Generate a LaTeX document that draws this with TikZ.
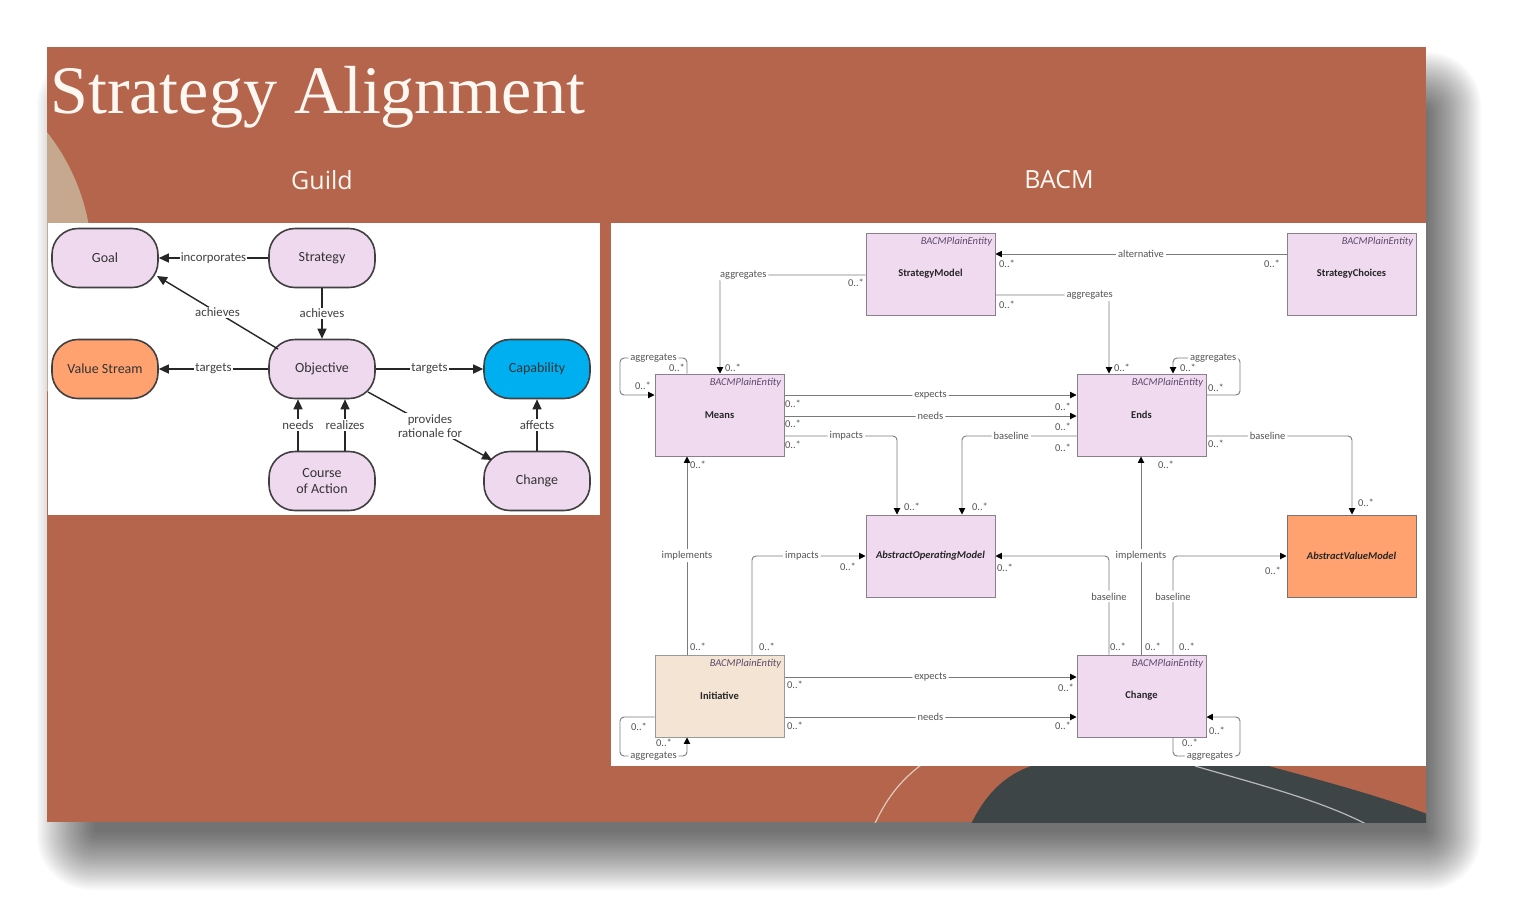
\documentclass[tikz,border=0pt]{standalone}
\usepackage{fontspec}
\setmainfont{Carlito}
\newfontfamily\titlefont{Liberation Serif}
\newfontfamily\headfont{Open Sans}
\usetikzlibrary{arrows.meta,calc}
\definecolor{slide}{HTML}{B5654C}
\definecolor{beigec}{HTML}{C6A88E}
\definecolor{darkblob}{HTML}{3D4547}
\definecolor{pinkfill}{HTML}{F0DAF0}
\definecolor{lavfill}{HTML}{EFD9EF}
\definecolor{orangefill}{HTML}{FFA26F}
\definecolor{bluefill}{HTML}{00AFEF}
\definecolor{initfill}{HTML}{F3E4D3}
\definecolor{boxline}{HTML}{8C7F8C}
\definecolor{connline}{HTML}{7A7A7A}
\definecolor{labeltext}{HTML}{555555}
\definecolor{stereotext}{HTML}{5A4A6A}
\definecolor{titlecol}{HTML}{FFF8F2}
\tikzset{
  pill/.style={draw=black!75, line width=0.8pt, rounded corners=13pt, fill=lavfill,
    minimum width=53pt, minimum height=29.5pt, inner sep=0pt, align=center,
    font=\fontsize{7}{8.2}\selectfont, text=black!80},
  gedge/.style={draw=black!85, line width=0.7pt, -{Triangle[length=5pt,width=4.5pt]}},
  glbl/.style={fill=white, font=\fontsize{6.4}{7.4}\selectfont, text=black!75, inner sep=0.6pt, align=center},
  umlbox/.style={draw=boxline, fill=pinkfill, line width=0.5pt, minimum width=64.5pt,
    minimum height=41pt, inner sep=0pt, font=\fontsize{5.25}{6}\selectfont\bfseries, text=black!85},
  stereolbl/.style={anchor=north east, inner xsep=1.5pt, inner ysep=2.2pt,
    font=\fontsize{5.25}{6}\selectfont\itshape, text=stereotext},
  stereo/.style={label={[stereolbl]north east:BACMPlainEntity}},
  conn/.style={draw=connline, line width=0.45pt, rounded corners=2pt},
  arr/.style={-{Triangle[length=3.2pt,width=3.2pt,color=black]}},
  clbl/.style={fill=white, font=\fontsize{5.25}{6}\selectfont, text=labeltext, inner sep=1pt},
  mult/.style={font=\fontsize{5.25}{6}\selectfont, text=labeltext, inner sep=0pt}
}
\begin{document}
\begin{tikzpicture}[x=0.5pt,y=-0.5pt]
\useasboundingbox (0,0) rectangle (1521,917);
\fill[white] (0,0) rectangle (1521,917);
% soft shadow (stacked translucent layers)
\foreach \i [evaluate=\i as \r using 1+0.9*\i] in {0,...,29} {
  \fill[black,opacity=0.022,rounded corners=\r pt] (95-2*\i,110-2*\i) rectangle (1426+1.9*\i,832+2*\i);
}
% slide
\fill[slide] (47,47) rectangle (1426,822);
\begin{scope}
  \clip (47,47) rectangle (1426,822);
  \fill[beigec] (-118,262) circle[radius=105pt];
  \fill[darkblob] (966,835) .. controls (985,790) and (1010,770) .. (1045,762) -- (1240,758)
     .. controls (1300,775) and (1380,795) .. (1432,816) -- (1432,835) -- cycle;
  \draw[beigec!60!white, line width=0.6pt] (872,830) .. controls (885,800) and (900,780) .. (925,762);
  \draw[gray!55, line width=0.6pt] (1195,766) .. controls (1260,785) and (1320,800) .. (1368,825);
\end{scope}
% panels
\fill[white] (48,223) rectangle (600,515);
\fill[white] (611,223) rectangle (1426,766);
% titles
\node[anchor=base west, inner sep=0pt, text=titlecol, font=\titlefont\fontsize{34}{40}\selectfont] (title) at (50,113) {Strategy Alignment};
\node[inner sep=0pt, text=titlecol, font=\headfont\fontsize{12.5}{15}\selectfont] (guild) at (322,180) {Guild};
\node[inner sep=0pt, text=titlecol, font=\headfont\fontsize{12.5}{15}\selectfont] (bacm) at (1059,180) {BACM};

% ---------- Guild diagram ----------
\node[pill] (Goal) at (105,258) {Goal};
\node[pill] (Strategy) at (322,258) {Strategy};
\node[pill, fill=orangefill] (VS) at (105,369) {Value Stream};
\node[pill] (Obj) at (322,369) {Objective};
\node[pill, fill=bluefill] (Cap) at (537,369) {Capability};
\node[pill] (CoA) at (322,481) {Course\\of Action};
\node[pill] (GChg) at (537,481) {Change};

\draw[gedge] (Strategy) -- node[glbl]{incorporates} (Goal);
\draw[gedge] ($(Obj)+(-44,-20)$) -- node[glbl]{achieves} ($(Goal)+(52,18)$);
\draw[gedge] (Strategy) -- node[glbl]{achieves} (Obj);
\draw[gedge] (Obj) -- node[glbl]{targets} (VS);
\draw[gedge] (Obj) -- node[glbl]{targets} (Cap);
\draw[gedge] ($(Obj)+(46,23)$) -- node[glbl]{provides\\rationale for} ($(GChg)+(-45,-21)$);
\draw[gedge] (CoA.north -| 298,0) -- node[glbl]{needs} (Obj.south -| 298,0);
\draw[gedge] (CoA.north -| 345,0) -- node[glbl]{realizes} (Obj.south -| 345,0);
\draw[gedge] (GChg) -- node[glbl]{affects} (Cap);

% ---------- BACM diagram ----------
\node[umlbox, stereo] (SM) at (930.5,274) {StrategyModel};
\node[umlbox, stereo] (SC) at (1351.5,274) {StrategyChoices};
\node[umlbox, stereo] (Means) at (719.5,415) {Means};
\node[umlbox, stereo] (Ends) at (1141.5,415) {Ends};
\node[umlbox, font=\fontsize{5.25}{6}\selectfont\bfseries\itshape] (AOM) at (930.5,556) {AbstractOperatingModel};
\node[umlbox, fill=orangefill, draw=black!55, font=\fontsize{5.25}{6}\selectfont\bfseries\itshape] (AVM) at (1351.5,556) {AbstractValueModel};
\node[umlbox, stereo, fill=initfill, draw=black!40] (Init) at (719.5,696) {Initiative};
\node[umlbox, stereo] (Chg) at (1141.5,696) {Change};

\draw[conn,arr] (SC.west |- 0,254) -- node[clbl]{alternative} (SM.east |- 0,254);
\draw[conn,arr] (SM.east |- 0,295) -- node[clbl,pos=0.83]{aggregates} (1109,295) -- (Ends.north -| 1109,0);
\draw[conn,arr] (SM.west |- 0,275) -- node[clbl,pos=0.84]{aggregates} (720,275) -- (Means.north -| 720,0);
\draw[conn,arr] (Means.north -| 687,0) -- (687,358) -- node[clbl]{aggregates} (620,358) -- (620,395) -- (Means.west |- 0,395);
\draw[conn,arr] (Ends.east |- 0,395) -- (1240,395) -- (1240,358) -- node[clbl,pos=0.4]{aggregates} (1173,358) -- (Ends.north -| 1173,0);
\draw[conn,arr] (Means.east |- 0,395) -- node[clbl]{expects} (Ends.west |- 0,395);
\draw[conn,arr] (Means.east |- 0,416) -- node[clbl]{needs} (Ends.west |- 0,416);
\draw[conn,arr] (Means.east |- 0,436) -- node[clbl,pos=0.55]{impacts} (897,436) -- (AOM.north -| 897,0);
\draw[conn,arr] (Ends.west |- 0,436) -- node[clbl,pos=0.57]{baseline} (962,436) -- (AOM.north -| 962,0);
\draw[conn,arr] (Ends.east |- 0,436) -- node[clbl,pos=0.42]{baseline} (1352,436) -- (AVM.north -| 1352,0);
\draw[conn,arr] (Init.north -| 687,0) -- node[clbl]{implements} (Means.south -| 687,0);
\draw[conn,arr] (Init.north -| 752,0) -- (752,556) -- node[clbl,pos=0.44]{impacts} (AOM.west |- 0,556);
\draw[conn,arr] (Chg.north -| 1109,0) -- node[clbl,pos=0.59]{baseline} (1109,556) -- (AOM.east |- 0,556);
\draw[conn,arr] (Chg.north -| 1141,0) -- node[clbl]{implements} (Ends.south -| 1141,0);
\draw[conn,arr] (Chg.north -| 1173,0) -- node[clbl,pos=0.59]{baseline} (1173,556) -- (AVM.west |- 0,556);
\draw[conn,arr] (Init.east |- 0,677) -- node[clbl]{expects} (Chg.west |- 0,677);
\draw[conn,arr] (Init.east |- 0,717) -- node[clbl]{needs} (Chg.west |- 0,717);
\draw[conn,arr] (Init.west |- 0,717) -- (620,717) -- (620,756) -- node[clbl]{aggregates} (687,756) -- (Init.south -| 687,0);
\draw[conn,arr] (Chg.south -| 1173,0) -- (1173,756) -- node[clbl,pos=0.55]{aggregates} (1240,756) -- (1240,717) -- (Chg.east |- 0,717);

\foreach \x/\y [count=\i] in {1007/264,1272/264,1007/305,856/283,733/368,677/368,643/386,
  1122/368,1188/368,1216/388,793/404,793/424,793/445,1063/407,1063/427,1063/448,
  912/507,980/507,1216/444,1366/503,698/465,1166/465,698/647,767/647,1118/647,
  1153/647,1187/647,848/567,1005/568,1273/571,795/685,795/726,1066/688,1063/726,
  639/727,664/743,1190/743,1217/731}
  \node[mult] (m\i) at (\x,\y) {0..*};
\end{tikzpicture}
\end{document}
